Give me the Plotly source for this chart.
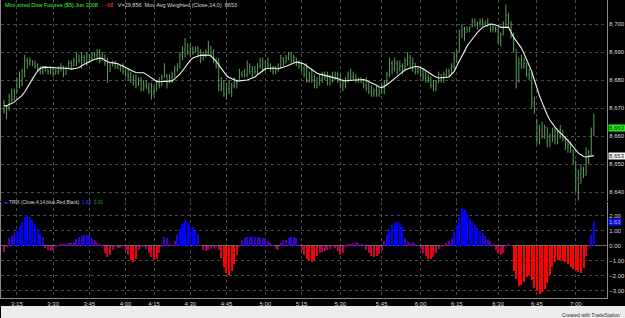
import plotly.graph_objects as go

# ---------------- data ----------------
time_labels = ["3:15", "3:30", "3:45", "4:00", "4:15", "4:30", "4:45", "5:00",
               "5:15", "5:30", "5:45", "6:00", "6:15", "6:30", "6:45", "7:00"]
time_label_bars = [5, 19, 33, 47, 58, 72, 86, 101, 115, 130, 146, 161, 175, 191, 206, 221]

price_ticks = [8640, 8650, 8660, 8670, 8680, 8690, 8700]
trix_ticks = [-3, -2, -1, 0, 1, 2]

high = [8673,8671,8675,8677,8677,8681,8683,8684,8689,8688,
        8688,8687,8687,8686,8685,8685,8685,8684,8685,8684,
        8684,8685,8686,8685,8685,8687,8687,8688,8690,8689,
        8690,8689,8690,8689,8690,8690,8691,8691,8690,8689,
        8688,8686,8687,8687,8686,8685,8686,8684,8684,8683,
        8682,8682,8681,8681,8680,8680,8679,8679,8678,8680,
        8681,8682,8686,8682,8682,8683,8685,8686,8690,8692,
        8695,8693,8693,8692,8692,8692,8691,8690,8691,8694,
        8692,8691,8688,8688,8681,8680,8679,8680,8679,8681,
        8680,8684,8683,8684,8687,8686,8685,8685,8686,8688,
        8688,8687,8688,8686,8685,8685,8686,8689,8688,8689,
        8690,8690,8689,8688,8687,8686,8685,8686,8683,8684,
        8682,8681,8682,8683,8683,8683,8682,8683,8683,8683,
        8682,8680,8681,8683,8684,8683,8682,8681,8681,8680,
        8681,8679,8678,8677,8678,8677,8679,8680,8683,8688,
        8687,8688,8687,8687,8686,8688,8690,8689,8688,8686,
        8685,8685,8684,8683,8682,8681,8680,8680,8683,8682,
        8683,8684,8684,8686,8690,8691,8698,8700,8699,8699,
        8699,8702,8702,8701,8702,8702,8701,8702,8700,8700,
        8699,8699,8697,8701,8707,8704,8701,8697,8691,8688,
        8689,8688,8686,8684,8683,8674,8666,8664,8665,8664,
        8663,8661,8663,8663,8662,8664,8662,8660,8659,8658,
        8655,8651,8648,8650,8649,8656,8655,8663,8668]

low = [8668,8666,8669,8672,8673,8675,8677,8678,8681,8684,
       8685,8685,8684,8683,8682,8682,8683,8682,8682,8681,
       8682,8682,8683,8681,8682,8684,8684,8685,8685,8686,
       8684,8686,8685,8686,8687,8688,8687,8686,8687,8685,
       8679,8683,8685,8684,8684,8683,8682,8681,8680,8679,
       8678,8677,8678,8676,8676,8677,8675,8673,8674,8676,
       8677,8678,8681,8677,8679,8679,8681,8683,8684,8687,
       8688,8689,8688,8689,8690,8688,8686,8687,8688,8689,
       8688,8686,8684,8676,8676,8674,8673,8675,8674,8677,
       8677,8680,8681,8681,8681,8682,8681,8682,8682,8684,
       8683,8683,8684,8683,8682,8682,8683,8684,8685,8686,
       8687,8686,8686,8685,8684,8683,8681,8679,8679,8679,
       8677,8677,8678,8679,8680,8678,8678,8679,8680,8679,
       8677,8676,8677,8679,8680,8680,8679,8679,8679,8677,
       8676,8675,8674,8674,8674,8674,8675,8675,8678,8681,
       8682,8683,8682,8683,8682,8683,8685,8684,8683,8682,
       8682,8681,8680,8679,8679,8677,8676,8676,8679,8679,
       8679,8681,8681,8682,8684,8686,8690,8695,8694,8697,
       8697,8699,8699,8698,8699,8699,8699,8699,8697,8697,
       8697,8693,8692,8696,8699,8699,8695,8690,8677,8679,
       8684,8684,8681,8680,8670,8668,8657,8657,8659,8659,
       8656,8656,8658,8657,8657,8659,8658,8655,8654,8654,
       8650,8640,8637,8643,8645,8646,8650,8653,8660]

open_ = [8672,8669,8670,8674,8673,8676,8680,8678,8683,8687,
         8686,8687,8686,8685,8684,8683,8684,8684,8683,8684,
         8682,8683,8684,8685,8682,8684,8686,8685,8687,8689,
         8687,8688,8687,8689,8688,8689,8689,8690,8687,8689,
         8686,8683,8685,8686,8685,8684,8685,8683,8682,8681,
         8680,8679,8678,8680,8677,8678,8677,8676,8675,8677,
         8679,8678,8681,8682,8679,8681,8682,8684,8685,8689,
         8691,8693,8690,8691,8690,8691,8689,8688,8689,8690,
         8692,8689,8687,8685,8678,8677,8675,8677,8676,8678,
         8679,8680,8682,8683,8682,8685,8683,8684,8683,8685,
         8687,8684,8686,8685,8684,8683,8684,8685,8688,8686,
         8688,8689,8687,8688,8686,8685,8684,8682,8680,8681,
         8680,8678,8679,8680,8682,8681,8679,8681,8680,8682,
         8680,8678,8679,8680,8682,8681,8682,8680,8680,8679,
         8678,8677,8676,8675,8676,8675,8676,8678,8679,8682,
         8686,8684,8686,8684,8685,8684,8687,8688,8685,8686,
         8683,8684,8682,8681,8680,8681,8678,8677,8679,8682,
         8680,8682,8683,8682,8685,8689,8690,8697,8698,8697,
         8698,8699,8701,8700,8700,8701,8700,8701,8700,8698,
         8699,8698,8694,8696,8700,8703,8700,8696,8691,8680,
         8686,8685,8686,8682,8681,8672,8666,8659,8662,8661,
         8663,8658,8660,8662,8659,8661,8662,8659,8656,8657,
         8655,8651,8645,8643,8648,8646,8654,8653,8661]

close = [8669,8670,8674,8673,8676,8680,8678,8683,8687,8686,
         8687,8686,8685,8684,8683,8684,8684,8683,8684,8682,
         8683,8684,8685,8682,8684,8686,8685,8687,8689,8687,
         8688,8687,8689,8688,8689,8689,8690,8687,8689,8686,
         8683,8685,8686,8685,8684,8685,8683,8682,8681,8680,
         8679,8678,8680,8677,8678,8677,8676,8675,8677,8679,
         8678,8681,8685,8679,8681,8682,8684,8685,8689,8691,
         8693,8690,8691,8690,8691,8689,8688,8689,8690,8692,
         8689,8687,8685,8678,8677,8675,8677,8676,8678,8679,
         8680,8682,8683,8682,8685,8683,8684,8683,8685,8687,
         8684,8686,8685,8684,8683,8684,8685,8688,8686,8688,
         8689,8687,8688,8686,8685,8684,8682,8680,8681,8680,
         8678,8679,8680,8682,8681,8679,8681,8680,8682,8680,
         8678,8679,8680,8682,8681,8682,8680,8680,8679,8678,
         8677,8676,8675,8676,8675,8676,8678,8679,8682,8686,
         8684,8686,8684,8685,8684,8687,8688,8685,8686,8683,
         8684,8682,8681,8680,8681,8678,8677,8679,8682,8680,
         8682,8683,8682,8685,8689,8690,8697,8698,8697,8698,
         8699,8701,8700,8700,8701,8700,8701,8700,8698,8699,
         8698,8694,8696,8700,8703,8700,8696,8691,8680,8686,
         8685,8686,8682,8681,8672,8669,8659,8662,8661,8663,
         8658,8660,8662,8659,8661,8662,8659,8656,8657,8655,
         8651,8645,8643,8648,8646,8654,8653,8661,8663]

wma14 = [8670.9,8670.7,8671.3,8671.8,8672.1,8673.0,8673.6,8674.5,8675.7,8677.1,
         8678.8,8680.4,8682.0,8683.2,8684.1,8684.5,8684.6,8684.5,8684.4,8684.3,
         8684.3,8684.3,8684.3,8684.3,8684.2,8684.1,8683.9,8684.0,8684.2,8684.5,
         8685.2,8685.6,8686.1,8686.6,8687.0,8687.4,8687.6,8687.8,8687.7,8687.1,
         8686.5,8686.3,8686.2,8686.1,8685.8,8685.4,8685.0,8684.6,8684.0,8683.5,
         8683.1,8682.7,8682.6,8682.7,8682.6,8682.0,8681.4,8680.8,8680.1,8679.5,
         8679.4,8679.5,8679.6,8679.6,8679.6,8679.7,8680.4,8681.1,8682.1,8683.3,
         8684.6,8685.9,8687.0,8687.9,8688.4,8688.6,8688.8,8688.9,8688.9,8688.9,
         8688.6,8687.7,8686.7,8685.4,8684.0,8682.6,8681.6,8680.9,8680.4,8680.0,
         8679.7,8679.7,8679.8,8679.9,8680.0,8680.4,8680.7,8681.1,8681.9,8682.6,
         8683.4,8684.0,8684.1,8684.2,8684.3,8684.1,8684.0,8684.3,8684.5,8684.9,
         8685.3,8685.6,8686.1,8686.4,8686.3,8686.1,8685.7,8685.0,8684.3,8683.7,
         8683.0,8682.4,8682.1,8681.9,8681.6,8681.4,8681.2,8681.0,8680.8,8680.5,
         8680.1,8679.8,8679.7,8679.8,8679.9,8680.0,8680.1,8680.2,8680.3,8680.2,
         8679.8,8679.4,8679.0,8678.6,8678.1,8677.5,8677.3,8677.7,8678.2,8679.0,
         8679.8,8680.6,8681.4,8682.2,8682.9,8683.6,8683.9,8684.2,8684.5,8684.8,
         8684.8,8684.5,8684.0,8683.4,8682.7,8682.1,8681.5,8681.1,8680.7,8680.8,
         8680.9,8681.0,8681.1,8682.0,8683.1,8685.0,8686.7,8688.7,8690.6,8692.1,
         8693.4,8694.8,8695.8,8697.0,8698.1,8698.8,8699.2,8699.6,8700.0,8699.9,
         8699.7,8699.4,8698.8,8698.7,8698.8,8698.9,8697.1,8695.2,8694.0,8692.7,
         8691.4,8689.5,8687.5,8685.6,8683.0,8680.0,8677.0,8674.3,8672.0,8669.6,
         8667.5,8665.7,8664.3,8663.2,8662.1,8661.2,8660.5,8659.4,8658.4,8657.3,
         8656.1,8655.0,8653.9,8653.3,8652.7,8652.5,8652.6,8652.8,8653.0]

trix = [-0.4,-0.1,0.5,0.65,0.85,1.05,1.3,1.65,1.95,2.05,
        1.9,1.7,1.45,1.1,0.8,0.6,-0.15,-0.3,-0.35,-0.3,
        -0.1,0.05,0.1,0.1,0.15,0.2,0.2,0.25,0.45,0.6,
        0.68,0.73,0.75,0.7,0.55,0.4,0.2,0.15,-0.1,-0.5,
        -0.75,-0.6,-0.25,-0.05,-0.15,-0.15,-0.1,-0.3,-0.6,-0.95,
        -1.05,-0.9,-0.3,-0.05,-0.05,-0.2,-0.45,-0.75,-0.95,-0.85,
        -0.5,-0.1,0.6,0.55,0.1,0.05,0.3,0.75,1.1,1.45,
        1.75,1.6,1.35,1.25,1.0,0.8,0.05,-0.3,-0.35,-0.3,
        -0.2,-0.15,-0.1,-0.3,-0.8,-1.4,-1.8,-1.95,-1.7,-1.2,
        -0.6,-0.1,0.4,0.55,0.6,0.62,0.62,0.6,0.6,0.55,
        0.5,0.45,0.35,0.2,0.05,-0.2,-0.3,0.2,0.4,0.4,
        0.55,0.6,0.6,0.55,0.05,-0.3,-0.6,-0.85,-0.95,-1.05,
        -0.95,-0.7,-0.5,-0.4,-0.35,-0.3,-0.2,-0.1,-0.15,-0.35,
        -0.6,-0.45,-0.1,0.1,0.15,0.2,0.25,0.22,0.15,0.02,
        -0.3,-0.5,-0.65,-0.72,-0.7,-0.55,-0.3,0.3,0.7,1.1,
        1.4,1.55,1.6,1.5,1.25,0.5,0.25,0.2,0.25,0.15,
        0.05,-0.2,-0.45,-0.7,-0.9,-0.9,-0.75,-0.5,-0.2,-0.05,
        0.05,0.2,0.3,0.55,0.95,1.4,1.9,2.5,2.4,2.1,
        1.8,1.6,1.4,1.2,1.0,0.85,0.65,0.45,0.3,0.1,
        -0.3,-0.55,-0.6,-0.45,-0.05,0.1,0.05,-1.7,-2.2,-2.7,
        -2.6,-2.4,-2.1,-1.95,-2.3,-2.8,-3.0,-3.2,-3.1,-2.9,
        -2.5,-1.95,-1.4,-1.1,-0.95,-0.95,-1.0,-1.05,-1.2,-1.4,
        -1.55,-1.6,-1.75,-1.8,-1.5,-0.7,-0.1,0.75,1.63]

symbol_name = "Mini-sized Dow Futures ($5) Jun 2008"
net_change = "-98"
volume_text = "V=29,856"
ma_name = "Mov Avg Weighted (Close,14,0)"
trix_name = "TRIX (Close,4,14,blue,Red,Black)"
trix_signal = 0.00

# ---------------- styling ----------------
bars = list(range(len(close)))
BAR_GREEN = "#5c9c5c"
GRID = "#4a4a4a"
AXIS = "#8a8a8a"
TXT = "#d8d8d8"
FONT = "Arial"


def trix_color(v):
    t = min(1.0, max(0.0, (v + 1.0) / 2.0))
    return "rgb(%d,0,%d)" % (round(255 * (1 - t)), round(255 * t))


trix_colors = [trix_color(v) for v in trix]

fig = go.Figure()
fig.add_trace(go.Ohlc(
    x=bars, open=open_, high=high, low=low, close=close,
    increasing=dict(line=dict(color=BAR_GREEN, width=1)),
    decreasing=dict(line=dict(color=BAR_GREEN, width=1)),
    tickwidth=0.25, xaxis="x", yaxis="y", hoverinfo="skip"))
fig.add_trace(go.Scatter(
    x=bars, y=wma14, mode="lines", line=dict(color="#f2f2f2", width=1.1),
    xaxis="x", yaxis="y", hoverinfo="skip"))
fig.add_trace(go.Bar(
    x=bars, y=trix, marker=dict(color=trix_colors, line=dict(width=0)),
    width=0.78, xaxis="x2", yaxis="y2", hoverinfo="skip"))

x_range = [-1.154, 233.08]
common_x = dict(range=x_range, tickvals=time_label_bars, showgrid=True, gridcolor=GRID,
                griddash="dot", gridwidth=1, zeroline=False, ticks="", fixedrange=True)

fig.update_layout(
    width=625, height=318,
    margin=dict(l=0, r=16, t=0, b=20, pad=0),
    paper_bgcolor="black", plot_bgcolor="black",
    showlegend=False, bargap=0,
    font=dict(family=FONT, size=6, color=TXT),
    xaxis=dict(domain=[0, 1], anchor="y", showticklabels=False,
               rangeslider=dict(visible=False), showline=False, **common_x),
    xaxis2=dict(domain=[0, 1], anchor="y2", ticktext=time_labels,
                tickfont=dict(family=FONT, size=6, color=TXT),
                showline=True, linecolor=AXIS, linewidth=1, **common_x),
    yaxis=dict(domain=[0.3255, 1], anchor="x", side="right", range=[8636.8, 8708.57],
               tickvals=price_ticks, tickformat=",d", showgrid=True, gridcolor=GRID,
               griddash="dot", zeroline=False, showline=True, linecolor=AXIS,
               mirror=True, ticks="", tickfont=dict(family=FONT, size=6, color=TXT),
               fixedrange=True),
    yaxis2=dict(domain=[0, 0.3221], anchor="x2", side="right", range=[-3.47, 2.93],
                tickvals=trix_ticks, tickformat=".2f", showgrid=True, gridcolor=GRID,
                griddash="dot", zeroline=True, zerolinecolor="#6a6a6a", zerolinewidth=1,
                showline=True, linecolor=AXIS, mirror=True, ticks="",
                tickfont=dict(family=FONT, size=6, color=TXT), fixedrange=True),
)

annotations = [
    dict(xref="paper", yref="paper", x=0.003, y=0.983, xanchor="left", yanchor="middle",
         showarrow=False, font=dict(family=FONT, size=5.5, color=TXT),
         text=("<span style='color:#33ff33'>%s</span>  "
               "<span style='color:#ff3030'>&#8595; %s</span>   "
               "%s  %s  %s" % (symbol_name, net_change, volume_text, ma_name,
                                 "%d" % round(wma14[-1])))),
    dict(xref="paper", yref="paper", x=0.003, y=0.3188, xanchor="left", yanchor="middle",
         showarrow=False, font=dict(family=FONT, size=4.7, color=TXT),
         text=("<span style='color:#2020ff'>&#9632;</span> %s  "
               "<span style='color:#4040ff'>%.2f</span>  "
               "<span style='color:#20a020'>%.2f</span>" % (trix_name, trix[-1], trix_signal))),
    # last-value boxes on the right scale
    dict(xref="paper", yref="y", x=1.0, y=close[-1], xanchor="left", yanchor="middle",
         xshift=1, showarrow=False, bgcolor="#22ee22", borderpad=0,
         font=dict(family=FONT, size=6, color="#003300"), text="{:,}".format(close[-1])),
    dict(xref="paper", yref="y", x=1.0, y=wma14[-1], xanchor="left", yanchor="middle",
         xshift=1, showarrow=False, bgcolor="#f4f4f4", borderpad=0,
         font=dict(family=FONT, size=6, color="#202020"),
         text="{:,}".format(int(round(wma14[-1])))),
    dict(xref="paper", yref="y2", x=1.0, y=trix[-1], xanchor="left", yanchor="middle",
         xshift=1, showarrow=False, bgcolor="#1010ee", borderpad=0,
         font=dict(family=FONT, size=6, color="#a0a0ff"), text="%.2f" % trix[-1]),
    dict(xref="paper", yref="paper", x=1.024, y=-0.056, xanchor="right", yanchor="middle",
         showarrow=False, font=dict(family=FONT, size=5, color="#303030"),
         text="Created with TradeStation"),
]
fig.update_layout(annotations=annotations)

fig.update_layout(shapes=[
    dict(type="rect", xref="paper", yref="paper", x0=0, x1=1.03, y0=-0.07, y1=-0.0268,
         fillcolor="#ececec", line=dict(width=0), layer="below"),
])

fig.write_html("out.html", config={"displayModeBar": False})
